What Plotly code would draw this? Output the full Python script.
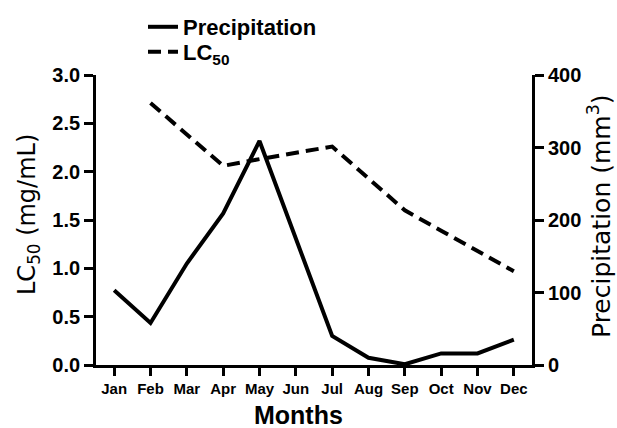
import plotly.graph_objects as go

months = ["Jan", "Feb", "Mar", "Apr", "May", "Jun",
          "Jul", "Aug", "Sep", "Oct", "Nov", "Dec"]
precipitation = [103, 58, 140, 209, 309, 174, 40, 10, 1, 16, 16, 35]   # mm3
lc50 = [None, 2.71, 2.38, 2.06, 2.13, 2.19, 2.26, 1.93, 1.60, 1.39, 1.18, 0.97]  # mg/mL

left_ticks = [0.0, 0.5, 1.0, 1.5, 2.0, 2.5, 3.0]
right_ticks = [0, 100, 200, 300, 400]

SANS = "Liberation Sans"
fig = go.Figure()

fig.add_trace(go.Scatter(
    x=months, y=precipitation, name="Precipitation", yaxis="y2",
    mode="lines", line=dict(color="black", width=4), legend="legend",
))
fig.add_trace(go.Scatter(
    x=months, y=lc50, name="LC<sub>50</sub>", yaxis="y",
    mode="lines", line=dict(color="black", width=4, dash="13px,7px"),
    legend="legend2",
))


def axis_style(ticklen):
    return dict(
        showline=True, linecolor="black", linewidth=2.8,
        ticks="outside", tickcolor="black", tickwidth=2.8, ticklen=ticklen,
        showgrid=False, zeroline=False,
    )


def legend_box(y_px):
    return dict(
        x=(149 - 6 - 96) / 436, y=(365 - y_px) / 290,
        xanchor="left", yanchor="middle",
        font=dict(family=SANS, size=22, weight="bold", color="black"),
        bgcolor="rgba(0,0,0,0)", borderwidth=0, itemwidth=30,
    )


fig.update_layout(
    width=617, height=428,
    margin=dict(l=96, r=85, t=75, b=63, autoexpand=False),
    paper_bgcolor="white", plot_bgcolor="white",
    font=dict(family=SANS, color="black"),
    showlegend=True,
    legend=legend_box(27),
    legend2=legend_box(52),
    xaxis=dict(
        **axis_style(8),
        type="category", categoryorder="array", categoryarray=months,
        range=[-0.5, 11.5],
        tickfont=dict(family=SANS, size=15, weight="bold"),
    ),
    yaxis=dict(
        **axis_style(9),
        range=[0, 3.0], tickvals=left_ticks,
        ticktext=[f"{v:.1f}" for v in left_ticks],
        tickfont=dict(family=SANS, size=20, weight="bold"),
    ),
    yaxis2=dict(
        **axis_style(9),
        overlaying="y", side="right",
        range=[0, 400], tickvals=right_ticks,
        ticktext=[str(v) for v in right_ticks],
        tickfont=dict(family=SANS, size=20, weight="bold"),
    ),
)

# axis titles
fig.add_annotation(
    text="Months", xref="paper", yref="paper",
    x=(298 - 96) / 436, y=-(415 - 365) / 290,
    showarrow=False, xanchor="center", yanchor="middle",
    font=dict(family=SANS, size=25, weight="bold"),
)
fig.add_annotation(
    text="LC<sub>50</sub> (mg/mL)", xref="paper", yref="paper",
    x=(28 - 96) / 436, y=(365 - 215) / 290, textangle=-90,
    showarrow=False, xanchor="center", yanchor="middle",
    font=dict(family="DejaVu Sans", size=24),
)
fig.add_annotation(
    text="Precipitation (mm<sup>3</sup>)", xref="paper", yref="paper",
    x=(599 - 96) / 436, y=(365 - 216) / 290, textangle=-90,
    showarrow=False, xanchor="center", yanchor="middle",
    font=dict(family="DejaVu Sans", size=25),
)

fig.write_html("out.html")
